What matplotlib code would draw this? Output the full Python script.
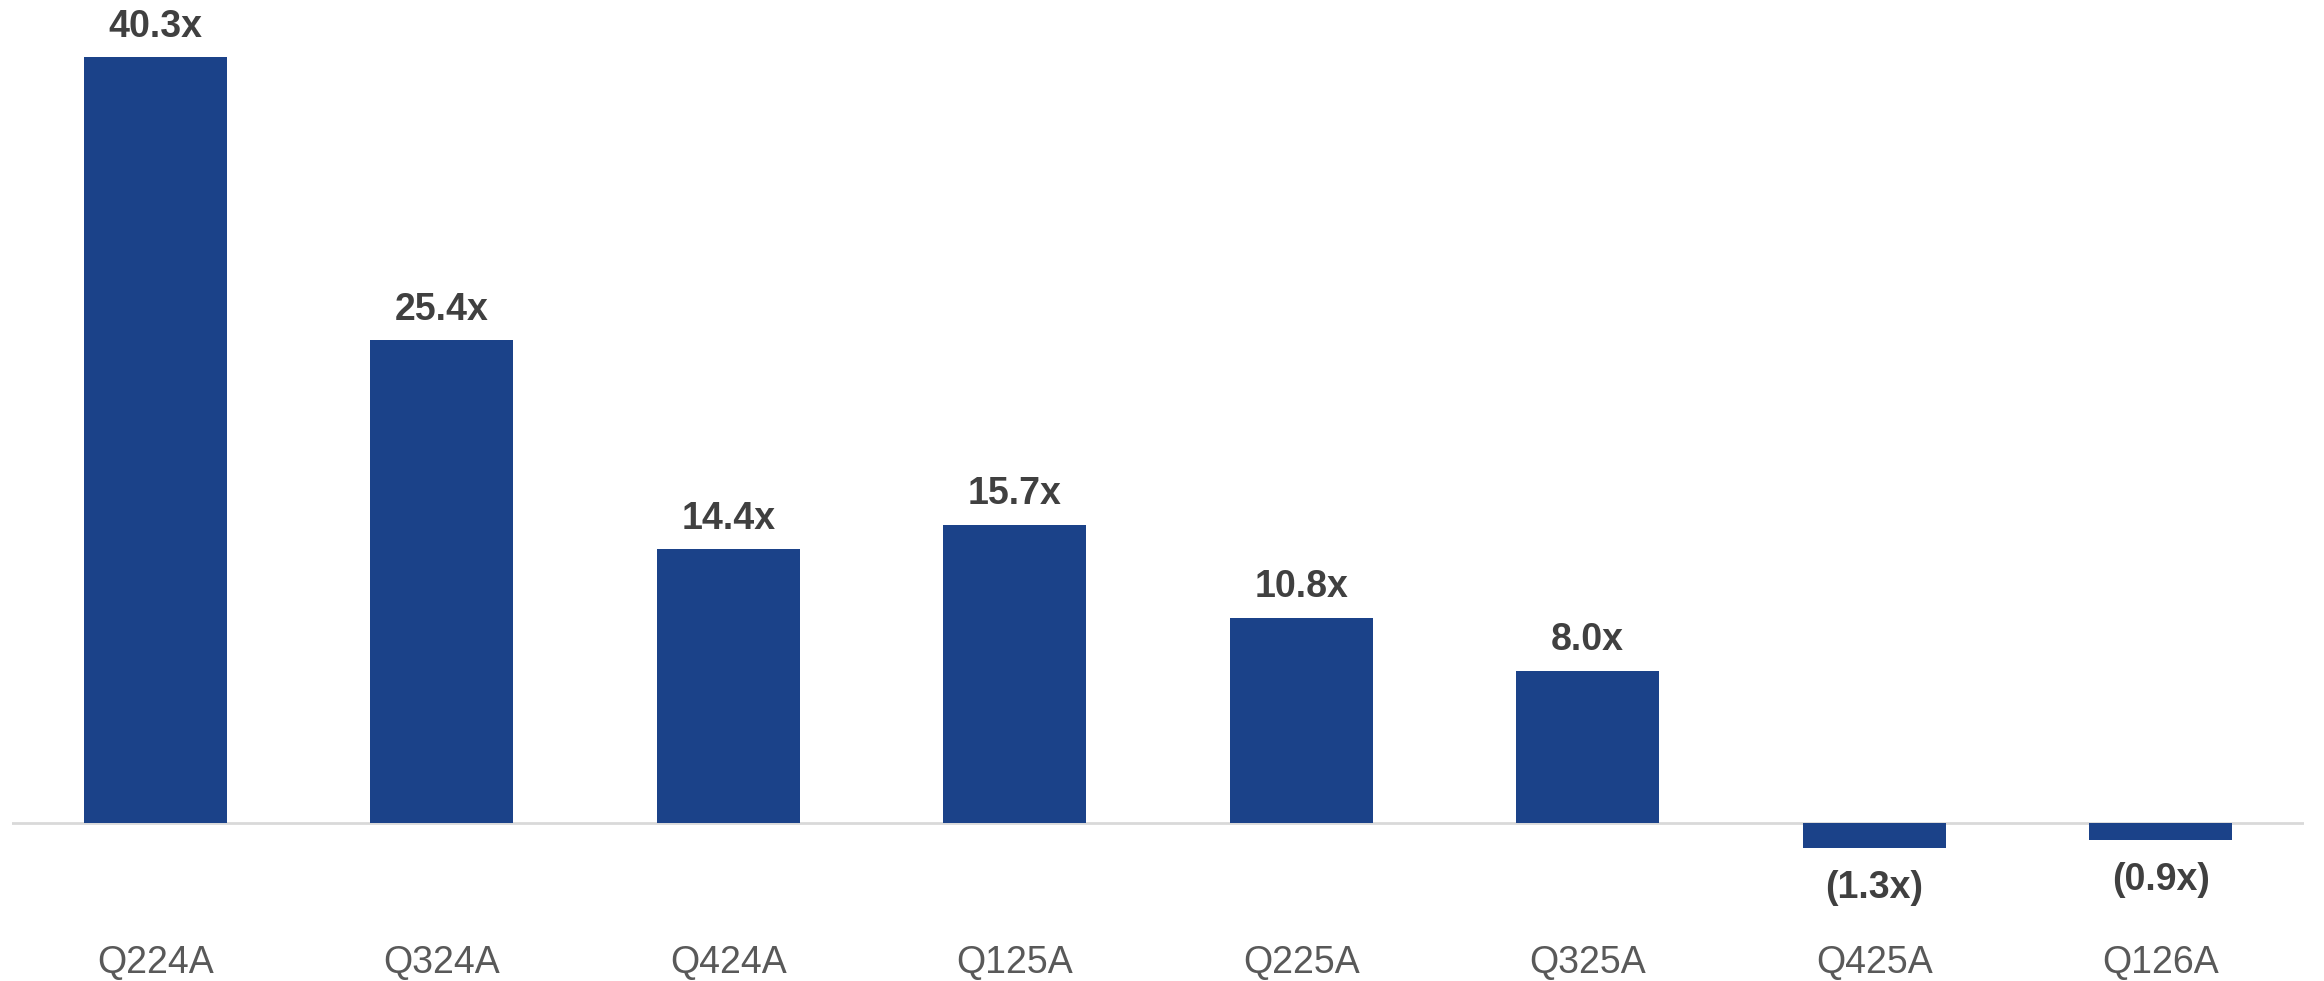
import matplotlib
matplotlib.use("Agg")
import matplotlib.pyplot as plt

categories = ["Q224A", "Q324A", "Q424A", "Q125A", "Q225A", "Q325A", "Q425A", "Q126A"]
values = [40.3, 25.4, 14.4, 15.7, 10.8, 8.0, -1.3, -0.9]
labels = ["40.3x", "25.4x", "14.4x", "15.7x", "10.8x", "8.0x", "(1.3x)", "(0.9x)"]

plt.rcParams['font.family'] = ['Liberation Sans', 'DejaVu Sans']

W, H = 2324, 981
fig = plt.figure(figsize=(W / 100, H / 100), dpi=100)

ymin, ymax = -3.5, 43.0
ppu = 19.0
base_px = 823
top_px = base_px - ymax * ppu
bot_px = base_px - ymin * ppu
left_px, right_px = 12, 2304
ax = fig.add_axes([left_px / W, 1 - bot_px / H, (right_px - left_px) / W, (bot_px - top_px) / H])

x = list(range(len(categories)))
ax.bar(x, values, width=0.5, color="#1B4289", zorder=2)
ax.axhline(0, color="#D9D9D9", lw=2, zorder=1)
ax.set_xlim(-0.5, 7.5)
ax.set_ylim(ymin, ymax)

for xi, v, lab in zip(x, values, labels):
    if v >= 0:
        ax.annotate(lab, (xi, v), xytext=(0, 9), textcoords="offset points",
                    ha="center", va="bottom", fontsize=27, fontweight="bold", color="#404040")
    else:
        ax.annotate(lab, (xi, v), xytext=(0, -16), textcoords="offset points",
                    ha="center", va="top", fontsize=27, fontweight="bold", color="#404040")

ax.set_xticks(x)
ax.set_xticklabels(categories, fontsize=27, color="#595959")
ax.tick_params(axis="x", length=0, pad=(945 - bot_px) * 0.72)
ax.set_yticks([])
for s in ax.spines.values():
    s.set_visible(False)

fig.savefig("out.png", dpi=100, facecolor="white")
